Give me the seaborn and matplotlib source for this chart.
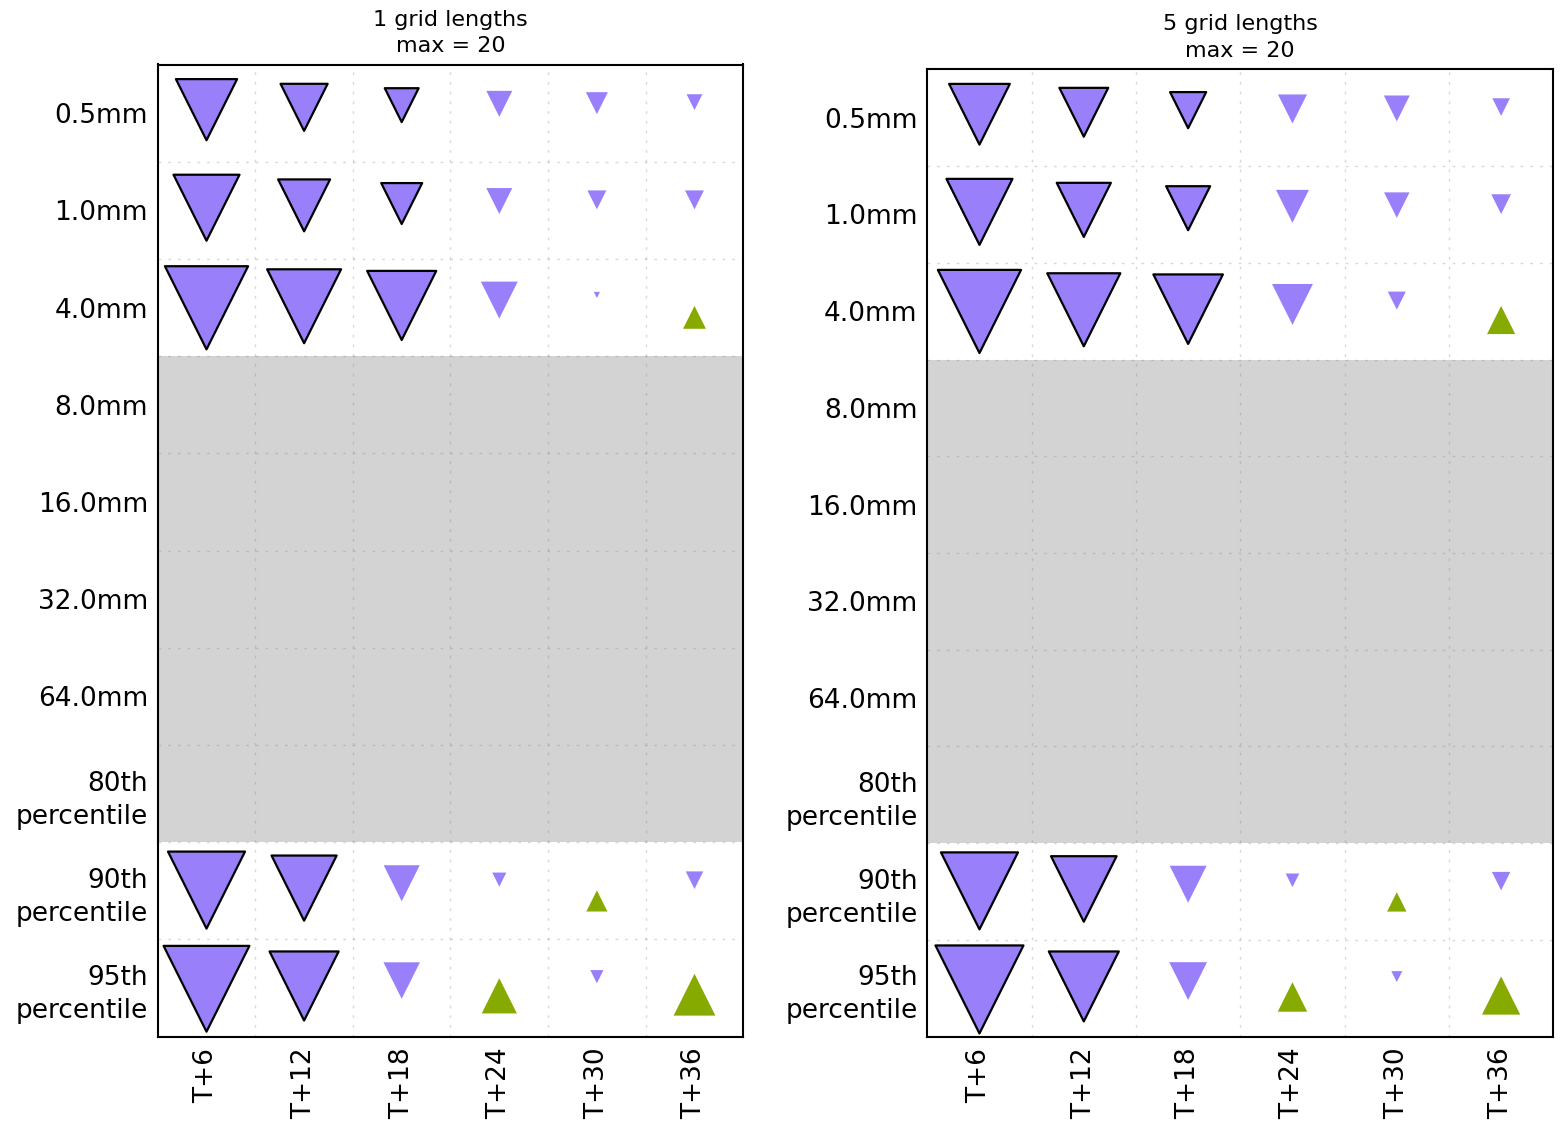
import numpy as np
import pandas as pd
import matplotlib
matplotlib.use("Agg")
import matplotlib.pyplot as plt
import matplotlib.transforms as mtransforms
from matplotlib.path import Path
import seaborn as sns

# Row / column labels
thresholds = ["0.5mm", "1.0mm", "4.0mm", "8.0mm", "16.0mm", "32.0mm",
              "64.0mm", "80th\npercentile", "90th\npercentile", "95th\npercentile"]
lead_times = ["T+6", "T+12", "T+18", "T+24", "T+30", "T+36"]

nan = np.nan

# Score change (%) per threshold (rows) and lead time (columns); NaN = not available
change_1gl = [
    [-13.9, -10.7, -7.7, -5.9, -5.0, -3.6],
    [-15.0, -11.8, -9.3, -5.9, -4.3, -4.3],
    [-18.9, -16.8, -15.7, -8.4, -1.4, 5.2],
    [nan] * 6,
    [nan] * 6,
    [nan] * 6,
    [nan] * 6,
    [nan] * 6,
    [-17.5, -14.8, -8.2, -3.2, 4.8, -4.0],
    [-19.5, -15.7, -8.3, 8.0, -3.0, 9.5],
]
signif_1gl = [
    [1, 1, 1, 0, 0, 0],
    [1, 1, 1, 0, 0, 0],
    [1, 1, 1, 0, 0, 0],
    [0] * 6, [0] * 6, [0] * 6, [0] * 6, [0] * 6,
    [1, 1, 0, 0, 0, 0],
    [1, 1, 0, 0, 0, 0],
]

change_5gl = [
    [-13.8, -11.1, -8.2, -6.6, -5.9, -4.0],
    [-15.0, -12.3, -10.0, -7.5, -5.8, -4.5],
    [-18.9, -16.6, -15.8, -9.3, -4.1, 6.4],
    [nan] * 6,
    [nan] * 6,
    [nan] * 6,
    [nan] * 6,
    [nan] * 6,
    [-17.5, -14.9, -8.4, -3.1, 4.4, -4.2],
    [-20.0, -15.9, -8.6, 6.7, -2.5, 8.7],
]
signif_5gl = [
    [1, 1, 1, 0, 0, 0],
    [1, 1, 1, 0, 0, 0],
    [1, 1, 1, 0, 0, 0],
    [0] * 6, [0] * 6, [0] * 6, [0] * 6, [0] * 6,
    [1, 1, 0, 0, 0, 0],
    [1, 1, 0, 0, 0, 0],
]

panel_titles = ["1 grid lengths\nmax = 20", "5 grid lengths\nmax = 20"]
max_change = 20

PURPLE = "#9980FA"
GREEN = "#86AA00"
GREY_BAND = "#d3d3d3"

# Triangle markers centred on their centroid
TRI_DOWN = Path([(-1, 2 / 3), (1, 2 / 3), (0, -4 / 3), (-1, 2 / 3)],
                [Path.MOVETO, Path.LINETO, Path.LINETO, Path.CLOSEPOLY])
TRI_UP = Path([(-1, -2 / 3), (1, -2 / 3), (0, 4 / 3), (-1, -2 / 3)],
              [Path.MOVETO, Path.LINETO, Path.LINETO, Path.CLOSEPOLY])
ROW_SHIFT = 0.14          # down triangles sit a little high, up triangles a little low
MAX_AREA = 7136           # marker area (pt^2) for a change of max_change


def long_table(change, signif):
    rows = []
    for r, label in enumerate(thresholds):
        for c, lt in enumerate(lead_times):
            rows.append(dict(row=r, col=c, change=change[r][c], sig=bool(signif[r][c])))
    df = pd.DataFrame(rows)
    df["mag2"] = df["change"] ** 2
    return df


sns.set_theme(style="white")
plt.rcParams["font.family"] = ["DejaVu Sans"]
plt.rcParams["text.color"] = "black"
plt.rcParams["xtick.color"] = "black"
plt.rcParams["ytick.color"] = "black"
plt.rcParams["axes.labelcolor"] = "black"

fig = plt.figure(figsize=(15.63, 11.22), dpi=100)
W, H = 1563, 1122
boxes = [
    (157.7, 64.5, 743.3, 1036.7),
    (927.3, 69.3, 1553.3, 1036.7),
]

for box, title, change, signif in zip(boxes, panel_titles,
                                      [change_1gl, change_5gl],
                                      [signif_1gl, signif_5gl]):
    x0, y0, x1, y1 = box
    ax = fig.add_axes([x0 / W, 1 - y1 / H, (x1 - x0) / W, (y1 - y0) / H])
    df = long_table(change, signif)

    # shade thresholds with no data
    for r in range(len(thresholds)):
        if df.loc[df["row"] == r, "change"].isna().all():
            ax.axhspan(r - 0.5, r + 0.5, color=GREY_BAND, lw=0, zorder=0.2)

    valid = df.dropna(subset=["change"])
    groups = [
        (valid[(valid["change"] < 0) & valid["sig"]], TRI_DOWN, PURPLE, -ROW_SHIFT, 1.6),
        (valid[(valid["change"] < 0) & ~valid["sig"]], TRI_DOWN, PURPLE, -ROW_SHIFT, 0),
        (valid[(valid["change"] >= 0) & valid["sig"]], TRI_UP, GREEN, ROW_SHIFT, 1.6),
        (valid[(valid["change"] >= 0) & ~valid["sig"]], TRI_UP, GREEN, ROW_SHIFT, 0),
    ]
    for sub, marker, colour, shift, lw in groups:
        if sub.empty:
            continue
        sub = sub.assign(ypos=sub["row"] + shift)
        sns.scatterplot(data=sub, x="col", y="ypos", size="mag2",
                        sizes=(0, MAX_AREA), size_norm=(0, max_change ** 2),
                        marker=marker, color=colour,
                        edgecolor="black" if lw else colour,
                        linewidth=lw, legend=False, ax=ax, zorder=3)

    ax.set_xlim(-0.5, len(lead_times) - 0.5)
    ax.set_ylim(len(thresholds) - 0.5, -0.5)
    ax.set_xticks(range(len(lead_times)))
    ax.set_xticklabels(lead_times, rotation=90, fontsize=19)
    ax.set_yticks(range(len(thresholds)))
    ax.set_yticklabels(thresholds, fontsize=19, linespacing=1.35)
    # nudge row labels up slightly
    lift = mtransforms.ScaledTranslation(0, 4 / 100, fig.dpi_scale_trans)
    for lab in ax.get_yticklabels():
        lab.set_transform(lab.get_transform() + lift)
    ax.set_xlabel("")
    ax.set_ylabel("")
    ax.tick_params(axis="both", length=0, colors="black")
    ax.tick_params(axis="y", pad=7)
    ax.tick_params(axis="x", pad=8)

    ax.set_xticks(np.arange(0.5, len(lead_times) - 0.5), minor=True)
    ax.set_yticks(np.arange(0.5, len(thresholds) - 0.5), minor=True)
    ax.tick_params(which="minor", length=0)
    ax.set_axisbelow(True)
    ax.grid(False)
    ax.grid(which="minor", color="grey", alpha=0.3, lw=1.0, linestyle=(0, (2, 5)))

    for sp in ax.spines.values():
        sp.set_visible(True)
        sp.set_color("black")
        sp.set_linewidth(1.5)

    ax.set_title(title, fontsize=16, pad=9, linespacing=1.4, color="black")

fig.savefig("out.png", dpi=100)
